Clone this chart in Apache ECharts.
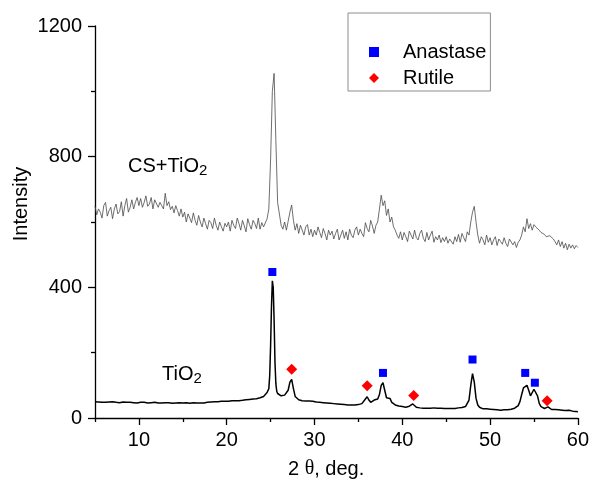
<!DOCTYPE html>
<html>
<head>
<meta charset="utf-8">
<script src="https://cdn.jsdelivr.net/npm/echarts@6/dist/echarts.min.js"></script>
<style>
html,body{margin:0;padding:0;background:#fff;}
#chart{width:592px;height:483px;}
</style>
</head>
<body>
<div id="chart"></div>
<script>
// ---- Data ----
const csTheta = [
5.0,5.2,5.4,5.6,5.8,6.0,6.2,6.4,6.6,6.8,7.0,7.2,7.4,7.6,7.8,8.0,8.2,8.4,8.6,8.8,9.0,9.2,9.4,9.6,9.8,
10.0,10.2,10.4,10.6,10.8,11.0,11.2,11.4,11.6,11.8,12.0,12.2,12.4,12.6,12.8,13.0,13.2,13.4,13.6,13.8,14.0,14.2,14.4,14.6,14.8,
15.0,15.2,15.4,15.6,15.8,16.0,16.2,16.4,16.6,16.8,17.0,17.2,17.4,17.6,17.8,18.0,18.2,18.4,18.6,18.8,19.0,19.2,19.4,19.6,19.8,
20.0,20.2,20.4,20.6,20.8,21.0,21.2,21.4,21.6,21.8,22.0,22.2,22.4,22.6,22.8,23.0,23.2,23.4,23.6,23.8,24.0,24.2,24.4,24.6,24.8,
25.0,25.2,25.4,25.6,25.8,26.0,26.2,26.4,26.6,26.8,27.0,27.2,27.4,27.6,27.8,28.0,28.2,28.4,28.6,28.8,29.0,29.2,29.4,29.6,29.8,
30.0,30.2,30.4,30.6,30.8,31.0,31.2,31.4,31.6,31.8,32.0,32.2,32.4,32.6,32.8,33.0,33.2,33.4,33.6,33.8,34.0,34.2,34.4,34.6,34.8,
35.0,35.2,35.4,35.6,35.8,36.0,36.2,36.4,36.6,36.8,37.0,37.2,37.4,37.6,37.8,38.0,38.2,38.4,38.6,38.8,39.0,39.2,39.4,39.6,39.8,
40.0,40.2,40.4,40.6,40.8,41.0,41.2,41.4,41.6,41.8,42.0,42.2,42.4,42.6,42.8,43.0,43.2,43.4,43.6,43.8,44.0,44.2,44.4,44.6,44.8,
45.0,45.2,45.4,45.6,45.8,46.0,46.2,46.4,46.6,46.8,47.0,47.2,47.4,47.6,47.8,48.0,48.2,48.4,48.6,48.8,49.0,49.2,49.4,49.6,49.8,
50.0,50.2,50.4,50.6,50.8,51.0,51.2,51.4,51.6,51.8,52.0,52.2,52.4,52.6,52.8,53.0,53.2,53.4,53.6,53.8,54.0,54.2,54.4,54.6,54.8,
55.0,55.2,55.4,55.6,55.8,56.0,56.2,56.4,56.6,56.8,57.0,57.2,57.4,57.6,57.8,58.0,58.2,58.4,58.6,58.8,59.0,59.2,59.4,59.6,59.8,
60.0
];
const csIntensity = [
648,622,640,630,612,650,660,618,635,645,610,640,655,625,632,662,618,650,672,630,645,668,640,660,675,
650,672,645,660,680,648,655,675,640,668,672,645,660,650,640,688,650,662,638,648,628,650,635,618,640,
615,630,600,625,612,598,628,605,590,620,600,585,612,595,578,605,598,580,612,590,575,600,585,572,596,
585,600,572,605,590,580,612,595,575,605,588,570,610,592,578,605,595,580,612,578,598,585,590,610,640,
790,1000,1055,850,660,665,590,578,600,575,602,630,652,605,575,595,565,590,575,560,585,592,560,578,555,
575,560,585,568,552,580,565,545,575,560,572,548,565,578,545,560,575,550,570,545,578,560,552,575,585,
560,578,565,555,598,580,570,605,588,565,590,600,640,682,650,665,620,640,600,615,585,575,560,550,570,
545,568,555,540,572,560,548,575,552,545,565,575,550,540,568,545,560,572,538,555,545,560,537,552,540,
555,535,548,552,532,555,540,562,538,565,552,540,570,560,600,630,648,600,560,535,555,545,530,560,538,
552,530,545,555,528,548,540,532,552,535,525,548,545,530,540,522,538,545,560,585,570,610,580,595,575,
592,585,580,575,568,570,562,555,560,558,560,548,540,530,545,525,540,520,535,515,532,520,530,518,528,
522
];
const tiTheta = [
5.0,5.2,5.4,5.6,5.8,6.0,6.2,6.4,6.6,6.8,7.0,7.2,7.4,7.6,7.8,8.0,8.2,8.4,8.6,8.8,9.0,9.2,9.4,9.6,9.8,
10.0,10.2,10.4,10.6,10.8,11.0,11.2,11.4,11.6,11.8,12.0,12.2,12.4,12.6,12.8,13.0,13.2,13.4,13.6,13.8,14.0,14.2,14.4,14.6,14.8,
15.0,15.2,15.4,15.6,15.8,16.0,16.2,16.4,16.6,16.8,17.0,17.2,17.4,17.6,17.8,18.0,18.2,18.4,18.6,18.8,19.0,19.2,19.4,19.6,19.8,
20.0,20.2,20.4,20.6,20.8,21.0,21.2,21.4,21.6,21.8,22.0,22.2,22.4,22.6,22.8,23.0,23.2,23.4,23.6,23.8,24.0,24.2,24.4,24.6,24.8,
24.9,25.0,25.1,25.2,25.3,25.4,25.5,25.6,25.7,25.8,26.0,26.2,26.4,26.6,26.8,27.0,27.2,27.4,27.6,27.8,28.0,28.2,28.4,28.6,28.8,29.0,29.2,29.4,29.6,29.8,
30.0,30.2,30.4,30.6,30.8,31.0,31.2,31.4,31.6,31.8,32.0,32.2,32.4,32.6,32.8,33.0,33.2,33.4,33.6,33.8,34.0,34.2,34.4,34.6,34.8,
35.0,35.2,35.4,35.6,35.8,36.0,36.2,36.4,36.6,36.8,37.0,37.2,37.4,37.6,37.8,38.0,38.2,38.4,38.6,38.8,39.0,39.2,39.4,39.6,39.8,
40.0,40.2,40.4,40.6,40.8,41.0,41.2,41.4,41.6,41.8,42.0,42.2,42.4,42.6,42.8,43.0,43.2,43.4,43.6,43.8,44.0,44.2,44.4,44.6,44.8,
45.0,45.2,45.4,45.6,45.8,46.0,46.2,46.4,46.6,46.8,47.0,47.2,47.4,47.6,47.8,48.0,48.2,48.4,48.6,48.8,49.0,49.2,49.4,49.6,49.8,
50.0,50.2,50.4,50.6,50.8,51.0,51.2,51.4,51.6,51.8,52.0,52.2,52.4,52.6,52.8,53.0,53.2,53.4,53.6,53.8,54.0,54.2,54.4,54.6,54.8,
55.0,55.2,55.4,55.6,55.8,56.0,56.2,56.4,56.6,56.8,57.0,57.2,57.4,57.6,57.8,58.0,58.2,58.4,58.6,58.8,59.0,59.2,59.4,59.6,59.8,
60.0
];
const tiIntensity = [
50,48,49,47,48,50,48,47,49,48,50,49,48,50,47,48,49,47,48,46,48,45,47,48,46,
47,48,46,48,47,46,48,47,46,48,47,46,47,46,48,47,46,47,46,45,47,46,45,47,46,
46,45,47,46,45,46,47,45,46,47,46,48,46,47,48,47,49,48,50,49,50,49,51,50,51,
52,51,52,53,52,53,54,53,55,54,55,56,55,57,56,58,57,59,60,62,63,66,70,78,90,
130,220,340,420,400,300,170,105,82,75,70,68,72,70,75,85,110,118,90,66,60,56,55,53,54,52,51,52,50,51,
50,49,50,48,49,47,48,46,47,45,46,44,45,43,44,42,43,41,42,40,42,40,41,40,42,
41,43,44,48,58,65,55,48,50,55,54,58,72,100,108,85,62,58,60,48,42,40,38,37,36,
35,34,33,34,36,40,43,38,33,30,31,29,30,29,30,28,30,29,31,29,30,32,30,28,29,
28,29,28,29,30,29,30,31,30,32,33,35,40,55,100,136,110,60,40,33,30,28,27,28,26,
27,25,26,27,25,26,24,26,25,27,25,26,27,28,30,32,38,50,72,92,98,100,85,68,70,
88,90,68,45,35,30,29,31,34,30,26,25,26,24,25,23,24,25,23,22,24,22,21,22,20,
19
];
const anataseTheta = [25.2, 37.8, 48.0, 54.0, 55.1];
const anataseMark  = [447, 138, 179, 138, 108];
const rutileTheta  = [27.4, 36.0, 41.3, 56.5];
const rutileMark   = [149, 99, 69, 53];
const xMajorTicks = [10, 20, 30, 40, 50, 60];
const xMinorTicks = [5, 15, 25, 35, 45, 55];
const yMajorTicks = [0, 400, 800, 1200];
const yMinorTicks = [200, 600, 1000];

const zip = (a, b) => a.map((v, i) => [v, b[i]]);
const FONT = "'Liberation Sans', Arial, sans-serif";

const chart = echarts.init(document.getElementById('chart'), null, {renderer: 'canvas'});
const axisLine = {show: true, lineStyle: {color: '#000', width: 1.3}};
const plain = v => String(v);
chart.setOption({
  animation: false,
  backgroundColor: '#fff',
  grid: {left: 95, right: 12, top: 26, bottom: 65, containLabel: false},
  xAxis: [
    {type: 'value', min: 5, max: 60, position: 'bottom', splitLine: {show: false},
     axisLine: axisLine,
     axisTick: {show: true, customValues: xMajorTicks, length: 7, lineStyle: {color: '#000', width: 1.3}},
     axisLabel: {show: true, customValues: xMajorTicks, formatter: plain, fontSize: 20, color: '#000', fontFamily: FONT, margin: 12}},
    {type: 'value', min: 5, max: 60, position: 'bottom', splitLine: {show: false},
     axisLine: {show: false},
     axisTick: {show: true, customValues: xMinorTicks, length: 4, lineStyle: {color: '#000', width: 1.3}},
     axisLabel: {show: false}}
  ],
  yAxis: [
    {type: 'value', min: 0, max: 1200, position: 'left', splitLine: {show: false},
     axisLine: axisLine,
     axisTick: {show: true, customValues: yMajorTicks, length: 7, lineStyle: {color: '#000', width: 1.3}},
     axisLabel: {show: true, customValues: yMajorTicks, formatter: plain, fontSize: 20, color: '#000', fontFamily: FONT, margin: 13}},
    {type: 'value', min: 0, max: 1200, position: 'left', splitLine: {show: false},
     axisLine: {show: false},
     axisTick: {show: true, customValues: yMinorTicks, length: 4, lineStyle: {color: '#000', width: 1.3}},
     axisLabel: {show: false}}
  ],
  legend: {
    orient: 'vertical', left: 348, top: 13,
    padding: [29, 4, 3, 21],
    itemGap: 6, itemWidth: 10, itemHeight: 10,
    borderColor: '#8c8c8c', borderWidth: 1,
    textStyle: {fontSize: 20, color: '#000', fontFamily: FONT, lineHeight: 20, padding: [0, 0, 0, 19]},
    data: [{name: 'Anastase', icon: 'rect', itemStyle: {color: '#0000ff', opacity: 1}},
           {name: 'Rutile', icon: 'diamond', itemStyle: {color: '#ff0000', opacity: 1}}]
  },
  series: [
    {name: 'CS+TiO2', type: 'line', xAxisIndex: 0, yAxisIndex: 0, data: zip(csTheta, csIntensity),
     showSymbol: false, symbol: 'none', lineStyle: {color: '#4a4a4a', width: 0.8}, z: 2},
    {name: 'TiO2', type: 'line', xAxisIndex: 0, yAxisIndex: 0, data: zip(tiTheta, tiIntensity),
     showSymbol: false, symbol: 'none', lineStyle: {color: '#000', width: 1.5}, z: 3},
    {name: 'Anastase', type: 'scatter', xAxisIndex: 0, yAxisIndex: 0, data: zip(anataseTheta, anataseMark),
     symbol: 'rect', symbolSize: 8, itemStyle: {color: '#0000ff', opacity: 1}, z: 4},
    {name: 'Rutile', type: 'scatter', xAxisIndex: 0, yAxisIndex: 0, data: zip(rutileTheta, rutileMark),
     symbol: 'diamond', symbolSize: [11, 11], itemStyle: {color: '#ff0000', opacity: 1}, z: 4}
  ],
  graphic: [
    {type: 'text', left: 128, top: 151, style: {
      text: '{a|CS+TiO}{b|2}', fill: '#000',
      rich: {a: {fontSize: 20, fontFamily: FONT, lineHeight: 22, verticalAlign: 'top', fill: '#000'},
             b: {fontSize: 15, fontFamily: FONT, lineHeight: 15, padding: [12, 0, 0, 0], verticalAlign: 'bottom', fill: '#000'}}}},
    {type: 'text', left: 162, top: 359, style: {
      text: '{a|TiO}{b|2}', fill: '#000',
      rich: {a: {fontSize: 20, fontFamily: FONT, lineHeight: 22, verticalAlign: 'top', fill: '#000'},
             b: {fontSize: 15, fontFamily: FONT, lineHeight: 15, padding: [12, 0, 0, 0], verticalAlign: 'bottom', fill: '#000'}}}},
    {type: 'text', left: 288, top: 459, style: {
      text: '{a|2 }{t|θ}{a|, deg.}', fill: '#000',
      rich: {a: {fontSize: 20, fontFamily: FONT, fill: '#000'},
             t: {fontSize: 20, fontFamily: "'Liberation Serif', serif", fill: '#000'}}}},
    {type: 'text', x: 21, y: 204, rotation: Math.PI / 2, style: {
      text: 'Intensity', fontSize: 20, fontFamily: FONT, fill: '#000', align: 'center', verticalAlign: 'middle'}}
  ]
});
</script>
</body>
</html>
